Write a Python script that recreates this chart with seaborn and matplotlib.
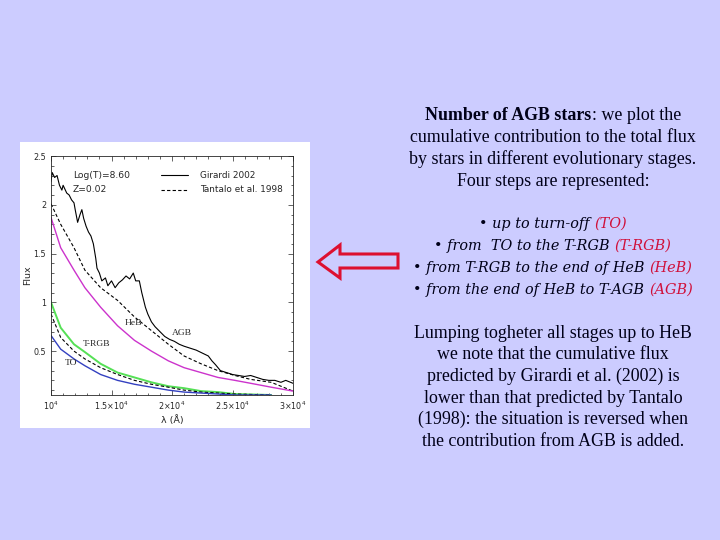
import matplotlib
matplotlib.use("Agg")
import matplotlib.pyplot as plt
import numpy as np
import pandas as pd
import seaborn as sns
from matplotlib.patches import Rectangle, Polygon

# ---- data (lambda in Angstrom, cumulative flux) ----
agb_wave = [10000, 10100, 10300, 10500, 10700, 10900, 11000, 11300, 11500, 11700, 11900,
            12000, 12200, 12400, 12550, 12700, 12900, 13100, 13300, 13500, 13700, 13800,
            14000, 14200, 14500, 14700, 15000, 15300, 15600, 15900, 16200, 16500, 16800,
            17000, 17300, 17500, 17800, 18000, 18300, 18600, 19000, 19400, 19800, 20200,
            20600, 21000, 21500, 22000, 22500, 23000, 23300, 23600, 24000, 24500, 25000,
            25500, 26000, 26500, 27000, 27500, 28000, 28500, 29000, 29400, 30000]
agb_flux = [2.24, 2.33, 2.28, 2.30, 2.20, 2.15, 2.20, 2.12, 2.10, 2.05, 2.02,
            1.95, 1.82, 1.90, 1.95, 1.86, 1.78, 1.72, 1.68, 1.60, 1.45, 1.35,
            1.30, 1.22, 1.25, 1.17, 1.22, 1.15, 1.20, 1.23, 1.27, 1.24, 1.30,
            1.22, 1.22, 1.10, 0.95, 0.88, 0.80, 0.75, 0.70, 0.65, 0.62, 0.60,
            0.57, 0.55, 0.53, 0.51, 0.48, 0.45, 0.40, 0.36, 0.30, 0.28, 0.26,
            0.25, 0.24, 0.25, 0.23, 0.21, 0.20, 0.20, 0.18, 0.20, 0.17]

wave = [10000, 10800, 11900, 12800, 14100, 15500, 16900, 18300, 19700, 21000,
        22400, 23800, 25200, 26500, 28200, 30000]
heb_flux = [1.87, 1.56, 1.33, 1.15, 0.95, 0.76, 0.61, 0.50, 0.40, 0.33,
            0.28, 0.23, 0.20, 0.17, 0.13, 0.09]
tantalo_heb = [2.01, 1.80, 1.56, 1.33, 1.15, 1.02, 0.85, 0.71, 0.57, 0.45,
               0.37, 0.30, 0.25, 0.21, 0.18, 0.09]

wave_short = [10000, 10800, 11900, 12800, 14100, 15500, 16900, 18300, 19700, 21000,
              22400, 23800, 25200, 28200]
trgb_flux = [1.00, 0.74, 0.57, 0.49, 0.37, 0.28, 0.23, 0.18, 0.14, 0.12,
             0.09, 0.08, 0.06, 0.05]
tantalo_trgb = [0.88, 0.64, 0.50, 0.42, 0.33, 0.26, 0.20, 0.16, 0.13, 0.10,
                0.08, 0.07, 0.06, 0.05]
to_flux = [0.66, 0.52, 0.42, 0.35, 0.26, 0.20, 0.16, 0.13, 0.10, 0.08,
           0.07, 0.06, 0.05, 0.05]

x_ticks = [10000, 15000, 20000, 25000, 30000]
x_labels = [r"10$^4$", r"1.5×10$^4$", r"2×10$^4$", r"2.5×10$^4$", r"3×10$^4$"]
y_ticks = [0.5, 1, 1.5, 2, 2.5]
y_labels = ["0.5", "1", "1.5", "2", "2.5"]

BG = "#CCCCFF"
RED = "#D0103A"
INK = "#000018"
W, H = 720, 540

sns.set_style("ticks")
plt.rcParams["font.family"] = ["DejaVu Sans"]

fig = plt.figure(figsize=(7.2, 5.4), dpi=100, facecolor=BG)


def fx(px):
    return px / W


def fy(py):
    return 1 - py / H


# white box of the pasted figure
fig.patches.append(Rectangle((fx(20), fy(428)), fx(290), 286 / H, transform=fig.transFigure,
                             facecolor="white", edgecolor="none", zorder=-10))

ax = fig.add_axes([fx(51), fy(395), fx(242), 239 / H])
ax.set_facecolor("white")
ax.set_zorder(5)

dash = (0, (3, 2))
sns.lineplot(x=agb_wave, y=agb_flux, ax=ax, color="black", lw=0.8)
sns.lineplot(x=wave, y=tantalo_heb, ax=ax, color="black", lw=0.8, linestyle=dash)
sns.lineplot(x=wave, y=heb_flux, ax=ax, color="#CC33CC", lw=1.0)
sns.lineplot(x=wave_short, y=trgb_flux, ax=ax, color="#55E055", lw=1.4)
sns.lineplot(x=wave_short, y=tantalo_trgb, ax=ax, color="black", lw=0.8, linestyle=dash)
sns.lineplot(x=wave_short, y=to_flux, ax=ax, color="#3340C0", lw=1.0)

ax.set_xlim(10000, 30000)
ax.set_ylim(0.05, 2.5)
ax.set_xticks(x_ticks)
ax.set_xticklabels(x_labels)
ax.set_yticks(y_ticks)
ax.set_yticklabels(y_labels)
ax.set_xticks(np.arange(10000, 30001, 1000), minor=True)
ax.set_yticks(np.arange(0.1, 2.51, 0.1), minor=True)
ax.tick_params(which="both", direction="in", top=True, right=True, labelsize=5.8, width=0.5)
ax.tick_params(which="major", length=3.5)
ax.tick_params(which="minor", length=1.8)
for s in ax.spines.values():
    s.set_linewidth(0.6)
ax.set_xlabel("λ (Å)", fontsize=6.8, labelpad=2)
ax.set_ylabel("Flux", fontsize=6.8, labelpad=1)

lab = dict(fontsize=6.8, family="Liberation Serif")
ax.text(0.09, 0.92, "Log(T)=8.60", transform=ax.transAxes, va="center", fontsize=6.6)
ax.text(0.09, 0.86, "Z=0.02", transform=ax.transAxes, va="center", fontsize=6.6)
ax.text(16100, 0.79, "HeB", va="center", **lab)
ax.text(20000, 0.69, "AGB", va="center", **lab)
ax.text(12600, 0.57, "T-RGB", va="center", **lab)
ax.text(11100, 0.38, "TO", va="center", **lab)

# legend drawn by hand, as in the original figure
ax.plot([0.455, 0.566], [0.92, 0.92], transform=ax.transAxes, color="black", lw=0.8)
ax.plot([0.455, 0.566], [0.858, 0.858], transform=ax.transAxes, color="black", lw=0.8, linestyle=dash)
ax.text(0.616, 0.92, "Girardi 2002", transform=ax.transAxes, va="center", fontsize=6.4)
ax.text(0.616, 0.858, "Tantalo et al. 1998", transform=ax.transAxes, va="center", fontsize=6.4)

# red outlined arrow pointing at the figure
arrow_px = [(318, 262), (340, 245), (340, 254), (398, 254), (398, 268), (340, 268), (340, 278)]
fig.patches.append(Polygon([(fx(x), fy(y)) for x, y in arrow_px], closed=True,
                           transform=fig.transFigure, facecolor=BG, edgecolor="#DD1030",
                           lw=2.2, joinstyle="miter"))

# ---- slide text ----
renderer = fig.canvas.get_renderer()
CX = 553
SIZE = 12.9
ROMAN = "Liberation Serif"
ITAL = "DejaVu Serif"
ISIZE = 10.4


def line(py, parts):
    """parts: list of (string, style, weight, color) placed side by side, centred on CX."""
    texts, widths = [], []
    for s, style, weight, color in parts:
        fam = ITAL if style == "italic" else ROMAN
        size = ISIZE if style == "italic" else SIZE
        kw = dict(fontsize=size, family=fam, style=style, weight=weight)
        t = fig.text(0, fy(py), s.strip(" "), color=color, va="baseline", ha="left", **kw)
        lead = len(s) - len(s.lstrip(" "))
        trail = len(s) - len(s.rstrip(" "))
        sp = fig.text(0, 0, "a a", **kw)
        sp2 = fig.text(0, 0, "aa", **kw)
        space = sp.get_window_extent(renderer).width - sp2.get_window_extent(renderer).width
        sp.remove()
        sp2.remove()
        w = t.get_window_extent(renderer).width
        texts.append((t, lead * space))
        widths.append(w + (lead + trail) * space)
    x = CX - sum(widths) / 2
    for (t, lead), w in zip(texts, widths):
        t.set_x(fx(x + lead))
        x += w


N, I = "normal", "italic"
line(120, [("Number of AGB stars", N, "bold", INK), (": we plot the", N, "normal", INK)])
line(142, [("cumulative contribution to the total flux", N, "normal", INK)])
line(164, [("by stars in different evolutionary stages.", N, "normal", INK)])
line(186, [("Four steps are represented:", N, "normal", INK)])
line(228, [("• up to turn-off ", I, "normal", INK), ("(TO)", I, "normal", RED)])
line(250, [("• from  TO to the T-RGB ", I, "normal", INK), ("(T-RGB)", I, "normal", RED)])
line(272, [("• from T-RGB to the end of HeB ", I, "normal", INK), ("(HeB)", I, "normal", RED)])
line(294, [("• from the end of HeB to T-AGB ", I, "normal", INK), ("(AGB)", I, "normal", RED)])
line(338, [("Lumping togheter all stages up to HeB", N, "normal", INK)])
line(359, [("we note that the cumulative flux", N, "normal", INK)])
line(381, [("predicted by Girardi et al. (2002) is", N, "normal", INK)])
line(403, [("lower than that predicted by Tantalo", N, "normal", INK)])
line(424, [("(1998): the situation is reversed when", N, "normal", INK)])
line(446, [("the contribution from AGB is added.", N, "normal", INK)])

fig.savefig("out.png", dpi=100, facecolor=BG)
